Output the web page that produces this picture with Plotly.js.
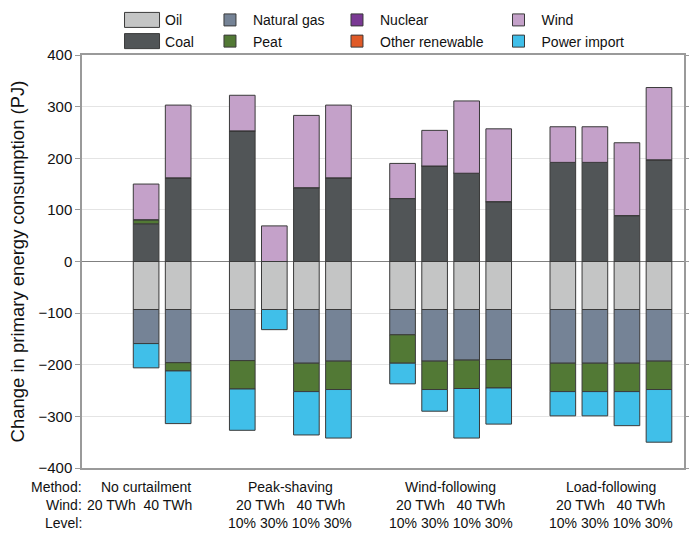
<!DOCTYPE html>
<html><head><meta charset="utf-8">
<script src="https://cdn.plot.ly/plotly-3.0.1.min.js"></script>
<style>html,body{margin:0;padding:0;background:#fff}</style>
</head><body><div id="chart" style="width:689px;height:534px"></div>
<script>
// ---- data ----
const methods = ['No curtailment', 'Peak-shaving', 'Wind-following', 'Load-following'];
const groupSizes = [2, 4, 4, 4];
const windLabels = ['20 TWh  40 TWh', '20 TWh   40 TWh', '20 TWh   40 TWh', '20 TWh   40 TWh'];
const levelLabels = ['', '10% 30% 10% 30%', '10% 30% 10% 30%', '10% 30% 10% 30%'];
const rowLabels = ['Method:', 'Wind:', 'Level:'];

const oil            = [-93, -93, -93, -93, -93, -93, -93, -93, -93, -93, -93, -93, -93, -93];
const coal           = [73, 162, 253, 0, 143, 162, 122, 185, 171, 116, 192, 192, 89, 197];
const naturalGas     = [-66, -103, -99, 0, -104, -100, -49, -100, -98, -97, -104, -104, -104, -100];
const peat           = [8, -16, -55, 0, -55, -55, -55, -55, -55, -55, -55, -55, -55, -55];
const nuclear        = [0, 0, 0, 0, 0, 0, 0, 0, 0, 0, 0, 0, 0, 0];
const otherRenewable = [0, 0, 0, 0, 0, 0, 0, 0, 0, 0, 0, 0, 0, 0];
const wind           = [69, 141, 69, 69, 140, 141, 68, 69, 140, 141, 69, 69, 141, 140];
const powerImport    = [-47, -102, -80, -39, -84, -94, -40, -42, -96, -70, -47, -47, -66, -102];

// ---- positions derived from group structure (one empty slot between groups) ----
const xPos = [];
const groupCenters = [];
let cursor = 0;
groupSizes.forEach(n => {
  const start = cursor;
  for (let i = 0; i < n; i++) xPos.push(cursor++);
  groupCenters.push((start + cursor - 1) / 2);
  cursor += 1;
});

const FONT = 'Liberation Sans, Arial, Helvetica, sans-serif';
const outline = {color: '#3a3a3a', width: 1};

const series = [
  {name: 'Oil', y: oil, color: '#c4c5c5', legend: 'legend', rank: 1},
  {name: 'Coal', y: coal, color: '#515557', legend: 'legend', rank: 2},
  {name: 'Natural gas', y: naturalGas, color: '#758396', legend: 'legend2', rank: 1},
  {name: 'Peat', y: peat, color: '#527935', legend: 'legend2', rank: 2},
  {name: 'Nuclear', y: nuclear, color: '#7a3994', legend: 'legend3', rank: 1},
  {name: 'Other renewable', y: otherRenewable, color: '#e05a27', legend: 'legend3', rank: 2},
  {name: 'Wind', y: wind, color: '#c4a1c9', legend: 'legend4', rank: 1},
  {name: 'Power import', y: powerImport, color: '#40bfe9', legend: 'legend4', rank: 2}
];

const traces = series.map(s => ({
  type: 'bar', name: s.name, x: xPos, y: s.y,
  marker: {color: s.color, line: outline},
  width: 0.8, legend: s.legend, legendrank: s.rank,
  hoverinfo: 'name+y'
}));

const annotations = [];
const rowShift = [-19, -37, -55];
rowLabels.forEach((t, r) => annotations.push({
  text: t, xref: 'paper', yref: 'paper', x: 0, y: 0, xanchor: 'right', yanchor: 'middle',
  yshift: rowShift[r], xshift: 2, showarrow: false, font: {family: FONT, size: 14, color: '#111'}
}));
methods.forEach((m, g) => {
  const first = g === 0;
  [[m, first ? -16 : 0], [windLabels[g], first ? -23 : 0], [levelLabels[g], 0]].forEach(([t, dx], r) => {
    if (!t) return;
    annotations.push({
      text: t, xref: 'x', yref: 'paper', x: groupCenters[g], y: 0, xanchor: 'center', yanchor: 'middle',
      yshift: rowShift[r], xshift: dx, showarrow: false, font: {family: FONT, size: 14, color: '#111'}
    });
  });
});

const legendBase = {
  orientation: 'v', xanchor: 'left', yanchor: 'top', y: 1.12, bgcolor: 'rgba(0,0,0,0)',
  font: {family: FONT, size: 14, color: '#111'}, itemwidth: 36, traceorder: 'normal',
  tracegroupgap: 0, itemclick: false, itemdoubleclick: false
};

const layout = {
  width: 689, height: 534,
  margin: {l: 82, r: 5, t: 54, b: 66},
  paper_bgcolor: '#fff', plot_bgcolor: '#fff',
  barmode: 'relative', bargap: 0.2,
  font: {family: FONT, size: 14, color: '#111'},
  showlegend: true,
  legend:  Object.assign({}, legendBase, {x: 0.0615}),
  legend2: Object.assign({}, legendBase, {x: 0.2076}),
  legend3: Object.assign({}, legendBase, {x: 0.4186}),
  legend4: Object.assign({}, legendBase, {x: 0.6869}),
  xaxis: {
    range: [-2, 16.78], showticklabels: false, ticks: '', showgrid: false, zeroline: false,
    showline: true, mirror: true, linecolor: '#9a9a9a', linewidth: 1.5, fixedrange: true
  },
  yaxis: {
    range: [-400, 400], dtick: 100, tick0: 0,
    ticks: 'outside', ticklen: 5, tickcolor: '#9a9a9a', tickwidth: 1,
    showline: true, mirror: 'allticks', linecolor: '#9a9a9a', linewidth: 1.5,
    showgrid: true, gridcolor: '#e4e4e4', gridwidth: 1,
    zeroline: true, zerolinecolor: '#808080', zerolinewidth: 1.2,
    tickfont: {family: FONT, size: 15, color: '#111'},
    title: {text: 'Change in primary energy consumption (PJ)', font: {family: FONT, size: 18.5, color: '#111'}, standoff: 9},
    fixedrange: true
  },
  annotations: annotations
};

Plotly.newPlot('chart', traces, layout, {displayModeBar: false}).then(() => {
  // widen legend swatches to the reference's wide rectangles
  document.querySelectorAll('.legend .legendpoints path').forEach(p => {
    p.setAttribute('d', 'M17.5,7.5H-17.5V-7.5H17.5Z');
  });
});
</script>
</body></html>
